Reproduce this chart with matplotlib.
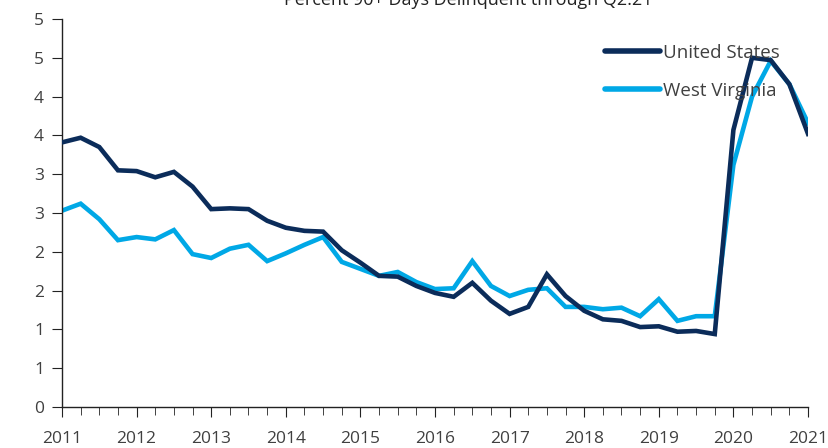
"""Percent 90+ days delinquent, US vs West Virginia, quarterly 2011-2021."""

import matplotlib

matplotlib.use("Agg")
import matplotlib.pyplot as plt
import numpy as np
from matplotlib.ticker import FuncFormatter, MultipleLocator

plt.rcParams["font.family"] = ["Open Sans", "DejaVu Sans"]

# --- data (quarterly from 2011) ---
START_YEAR = 2011
united_states = [3.41, 3.47, 3.35, 3.05, 3.04, 2.96, 3.03, 2.84, 2.55, 2.56,
                 2.55, 2.40, 2.31, 2.27, 2.26, 2.02, 1.86, 1.69, 1.68, 1.56,
                 1.47, 1.42, 1.60, 1.37, 1.20, 1.29, 1.71, 1.43, 1.24, 1.13,
                 1.11, 1.03, 1.04, 0.97, 0.98, 0.94, 3.57, 4.50, 4.47, 4.16,
                 3.52]
west_virginia = [2.53, 2.62, 2.42, 2.15, 2.19, 2.16, 2.28, 1.97, 1.92, 2.04,
                 2.09, 1.88, 1.98, 2.09, 2.19, 1.87, 1.78, 1.69, 1.74, 1.61,
                 1.52, 1.53, 1.88, 1.56, 1.43, 1.51, 1.53, 1.29, 1.29, 1.26,
                 1.28, 1.17, 1.39, 1.11, 1.17, 1.17, 3.12, 4.00, 4.46, 4.16,
                 3.66]
series_labels = ["United States", "West Virginia"]
title = "Percent 90+ Days Delinquent through Q2:21"

US_COLOR = "#0b2c5a"
WV_COLOR = "#00a8e6"
TEXT_COLOR = "#404040"

x = START_YEAR + np.arange(len(united_states)) * 0.25

fig = plt.figure(figsize=(8.29, 4.48), dpi=100)
ax = fig.add_axes([62 / 829, 41 / 448, (808 - 62) / 829, (407 - 19) / 448])

ax.plot(x, united_states, color=US_COLOR, lw=3.3, label=series_labels[0],
        solid_joinstyle="miter", zorder=3)
ax.plot(x, west_virginia, color=WV_COLOR, lw=3.3, label=series_labels[1],
        solid_joinstyle="miter", zorder=2)

ax.set_xlim(2011, 2021)
ax.set_ylim(0, 5)
ax.xaxis.set_major_locator(MultipleLocator(1))
ax.xaxis.set_minor_locator(MultipleLocator(0.25))
ax.xaxis.set_major_formatter(FuncFormatter(lambda v, _: f"{int(round(v))}"))
ax.yaxis.set_major_locator(MultipleLocator(0.5))
# Excel-style rounding of the half-point ticks
ax.yaxis.set_major_formatter(FuncFormatter(lambda v, _: f"{int(np.floor(v + 0.5 + 1e-9))}"))

for side in ("top", "right"):
    ax.spines[side].set_visible(False)
for side in ("left", "bottom"):
    ax.spines[side].set_color("#222222")
    ax.spines[side].set_linewidth(1.0)

ax.tick_params(axis="both", which="both", direction="out", color="#222222",
               labelcolor=TEXT_COLOR, labelsize=12.5)
ax.tick_params(axis="x", which="major", length=7, pad=10)
ax.tick_params(axis="x", which="minor", length=6)
ax.tick_params(axis="y", which="major", length=7, pad=6)

ax.legend(loc="upper left", bbox_to_anchor=(605 / 829, 1 - 44 / 448),
          bbox_transform=fig.transFigure, frameon=False, fontsize=13.5,
          handlelength=2.95, handletextpad=0.15, labelspacing=1.05,
          borderpad=0, borderaxespad=0, labelcolor=TEXT_COLOR)
for line in ax.get_legend().get_lines():
    line.set_linewidth(4)
    line.set_solid_capstyle("round")

fig.text(468 / 829, 1 - 5 / 448, title, ha="center", va="baseline",
         fontsize=13, color="#222222")

fig.savefig("out.png", dpi=100)
